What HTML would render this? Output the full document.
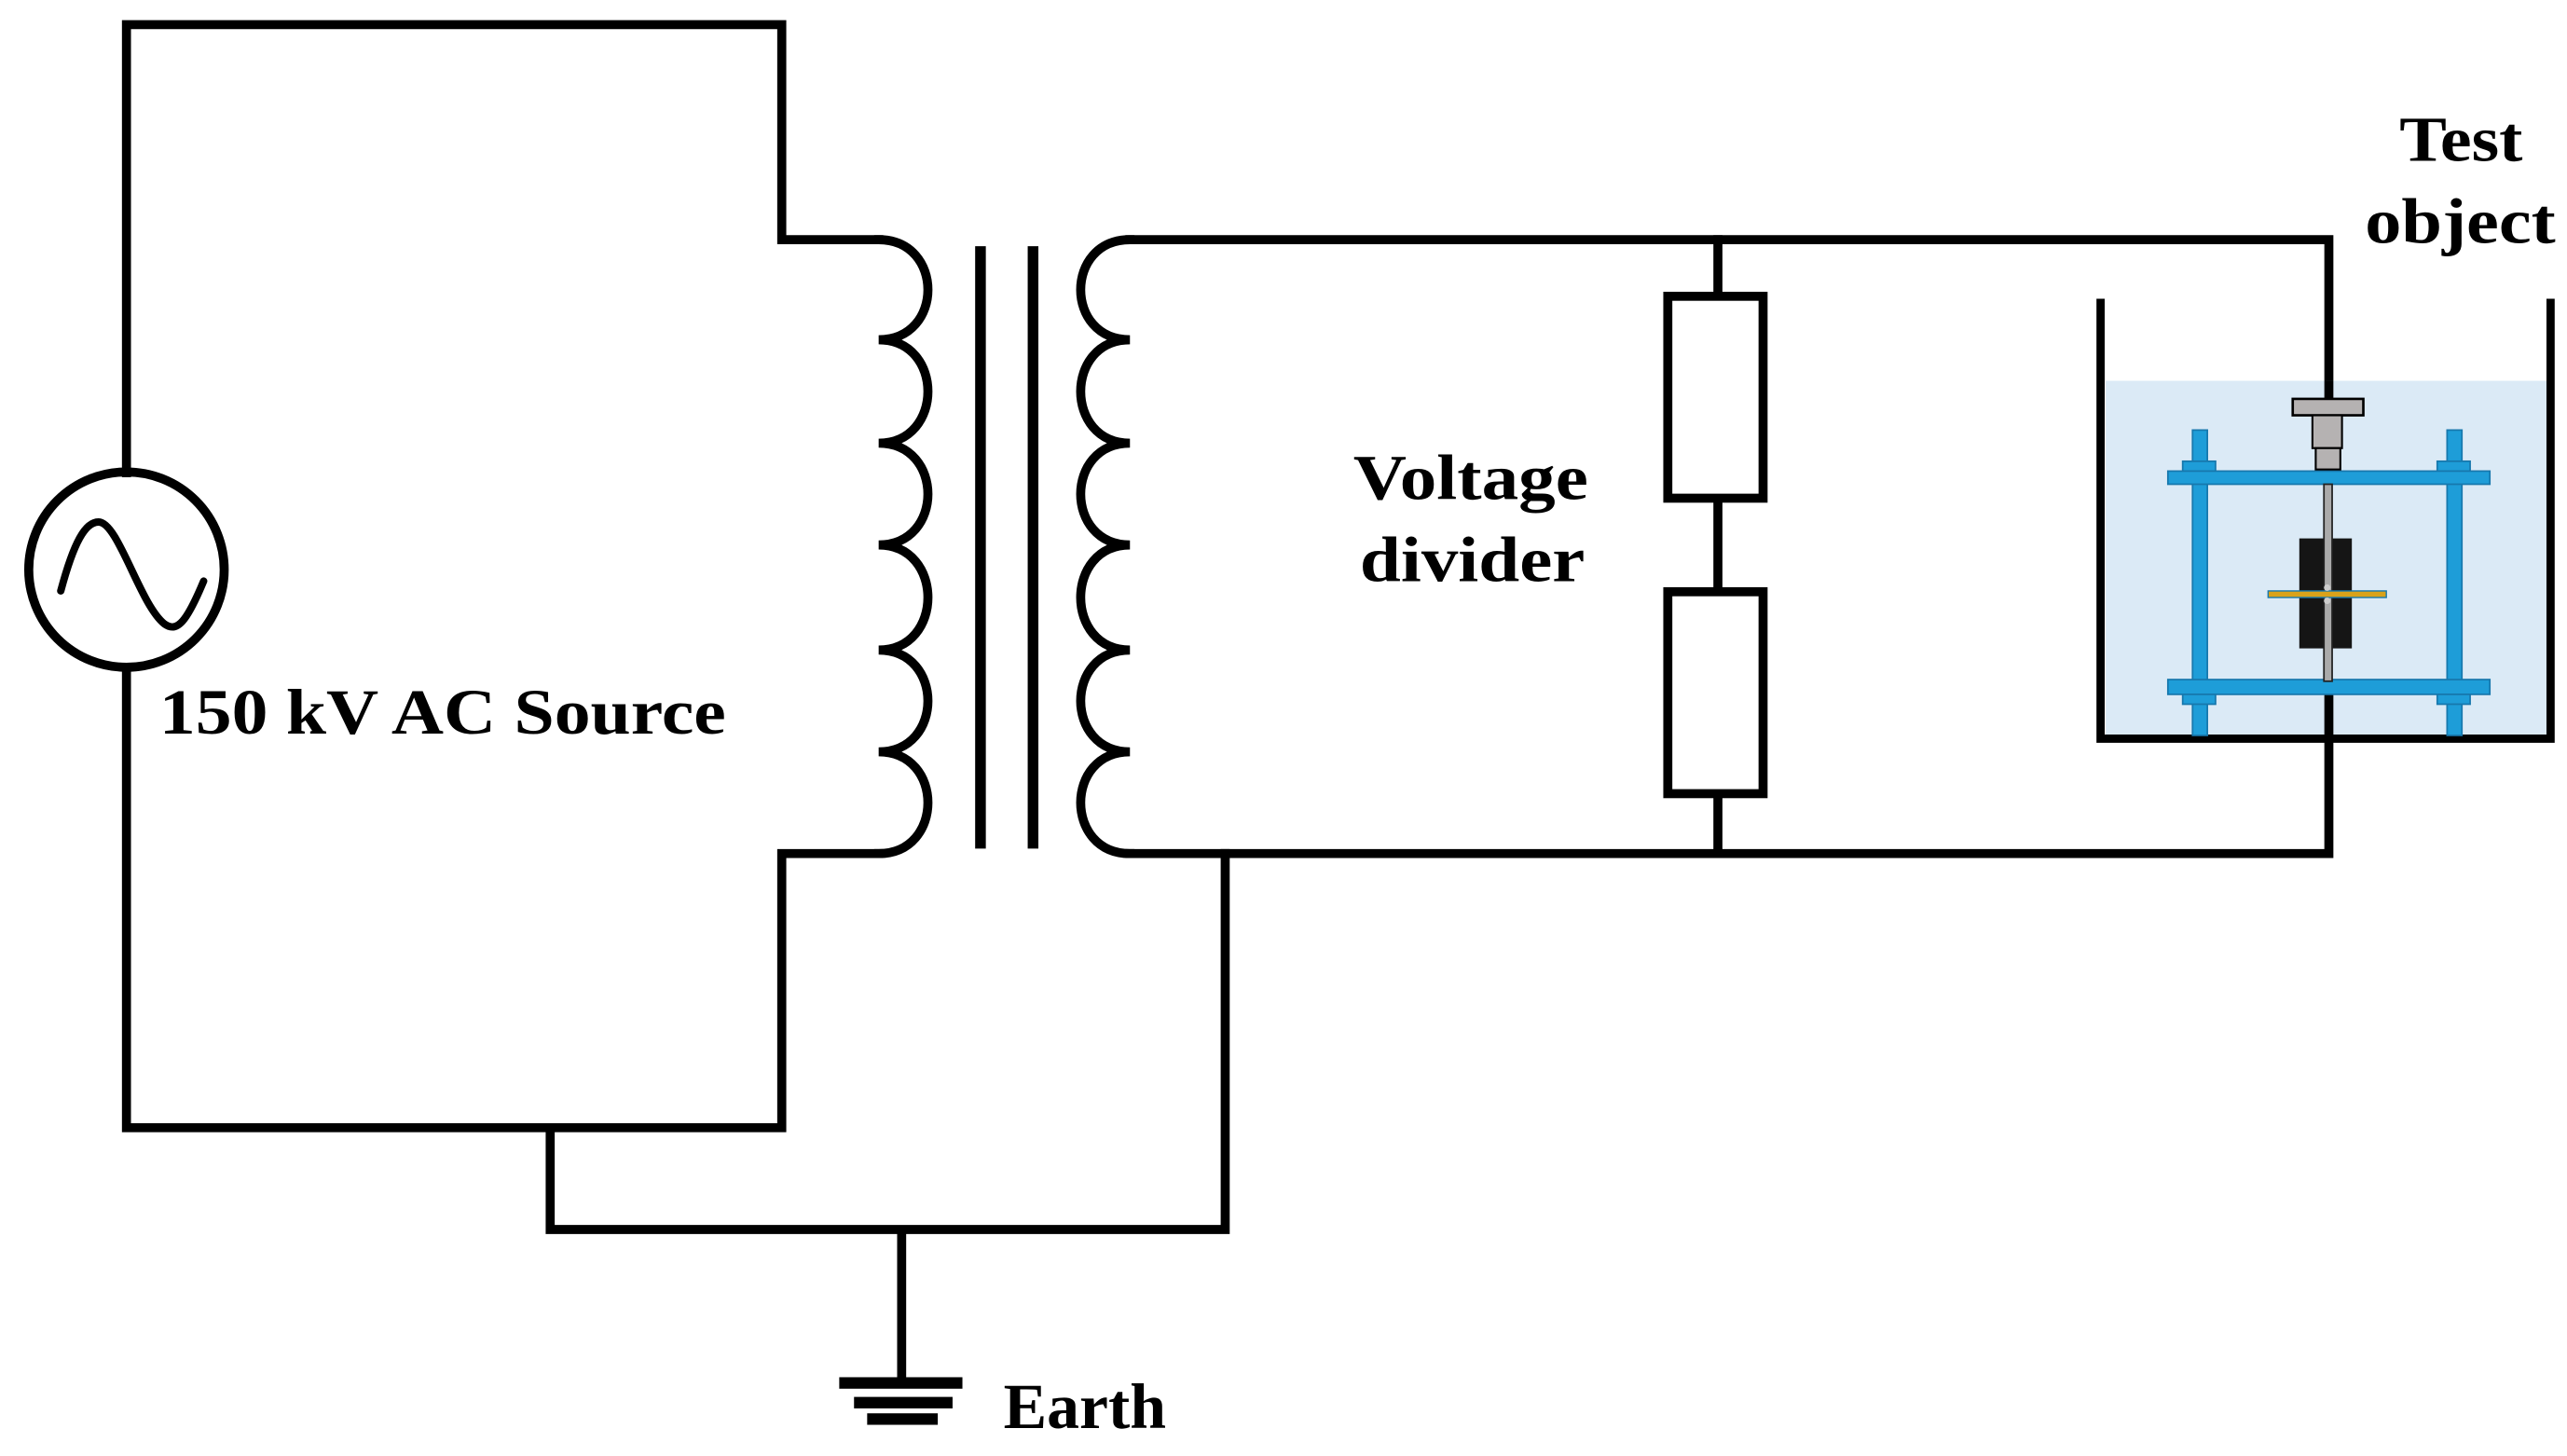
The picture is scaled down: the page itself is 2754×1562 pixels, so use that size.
<!DOCTYPE html>
<html><head><meta charset="utf-8"><style>
html,body{margin:0;padding:0;background:#fff;}
svg{display:block;}
text{font-family:"Liberation Serif",serif;font-weight:bold;fill:#000;}
</style></head><body>
<svg width="2754" height="1562" viewBox="0 0 1563 887" preserveAspectRatio="none" xmlns="http://www.w3.org/2000/svg">
<g fill="none" stroke="#000" stroke-width="5.5" stroke-linejoin="miter" stroke-linecap="square">
<!-- left source loop -->
<path d="M77 288 V15 H476 V146 H535"/>
<path d="M77 407 V687 H476 V520 H535"/>
<circle cx="77" cy="347" r="59.5"/>
<path d="M37 360 C45 330 52 318 60 318 C72 318 85 368 100 380 C108 386 114 378 124 354" stroke-width="4.5" stroke-linecap="round"/>
<!-- primary coil -->
<path d="M535 146 C575 146 575 207 535 207 C575 207 575 270 535 270 C575 270 575 332 535 332 C575 332 575 396 535 396 C575 396 575 458 535 458 C575 458 575 520 535 520"/>
<!-- core -->
<line x1="597" y1="150" x2="597" y2="517" stroke-width="6.5" stroke-linecap="butt"/>
<line x1="629" y1="150" x2="629" y2="517" stroke-width="6.5" stroke-linecap="butt"/>
<!-- secondary coil -->
<path d="M688 146 C648 146 648 207 688 207 C648 207 648 270 688 270 C648 270 648 332 688 332 C648 332 648 396 688 396 C648 396 648 458 688 458 C648 458 648 520 688 520"/>
<path d="M688 146 H1418 V232"/>
<path d="M688 520 H1418 V450"/>
<!-- ground -->
<path d="M746 520 V749 H335 V687"/>
<line x1="549" y1="749" x2="549" y2="842" stroke-linecap="butt"/>
<!-- divider -->
<line x1="1046" y1="146" x2="1046" y2="520"/>
</g>
<rect x="1015.5" y="180.5" width="58" height="123" fill="#fff" stroke="#000" stroke-width="5.5"/>
<rect x="1015.5" y="360.5" width="58" height="123" fill="#fff" stroke="#000" stroke-width="5.5"/>
<!-- earth bars -->
<rect x="511" y="839" width="75" height="7" fill="#000"/>
<rect x="520" y="851" width="60" height="7" fill="#000"/>
<rect x="528" y="861" width="43" height="7" fill="#000"/>
<!-- tank -->
<rect x="1282" y="232" width="269" height="216" fill="#dbeaf6"/>
<path d="M1279 182 V450 H1553 V182" fill="none" stroke="#000" stroke-width="5"/>
<line x1="1418" y1="232" x2="1418" y2="245" stroke="#000" stroke-width="5.5"/>
<line x1="1418" y1="420" x2="1418" y2="450" stroke="#000" stroke-width="5.5"/>
<!-- frame -->
<g fill="#1e9dd8" stroke="#1778ad" stroke-width="1">
<rect x="1335" y="262" width="9" height="186"/>
<rect x="1490" y="262" width="9" height="186"/>
<rect x="1329" y="281" width="20" height="6"/>
<rect x="1484" y="281" width="20" height="6"/>
<rect x="1320" y="287" width="196" height="8"/>
<rect x="1320" y="414" width="196" height="9"/>
<rect x="1329" y="423" width="20" height="6"/>
<rect x="1484" y="423" width="20" height="6"/>
</g>
<!-- specimen -->
<rect x="1400" y="328" width="32" height="67" fill="#151515"/>
<rect x="1415" y="295" width="5" height="120" fill="#aaa" stroke="#222" stroke-width="1"/>
<rect x="1381" y="360" width="72" height="4" fill="#d9a21a" stroke="#1778ad" stroke-width="0.8"/>
<circle cx="1417" cy="358" r="2" fill="#ccc"/>
<circle cx="1417" cy="366" r="2" fill="#ccc"/>
<!-- electrode head -->
<rect x="1396" y="243" width="43" height="10" fill="#b5b2b2" stroke="#000" stroke-width="1.5"/>
<rect x="1408" y="253" width="18" height="20" fill="#b5b2b2" stroke="#000" stroke-width="1.2"/>
<rect x="1410" y="273" width="15" height="13" fill="#b5b2b2" stroke="#000" stroke-width="1.2"/>
<!-- text -->
<text x="97" y="447" font-size="39" textLength="345" lengthAdjust="spacingAndGlyphs">150 kV AC Source</text>
<text x="824" y="304" font-size="39" textLength="143" lengthAdjust="spacingAndGlyphs">Voltage</text>
<text x="828" y="354" font-size="39" textLength="137" lengthAdjust="spacingAndGlyphs">divider</text>
<text x="1461" y="98" font-size="39" textLength="75" lengthAdjust="spacingAndGlyphs">Test</text>
<text x="1440" y="148" font-size="39" textLength="116" lengthAdjust="spacingAndGlyphs">object</text>
<text x="611" y="870" font-size="39" textLength="99" lengthAdjust="spacingAndGlyphs">Earth</text>
</svg>
</body></html>
